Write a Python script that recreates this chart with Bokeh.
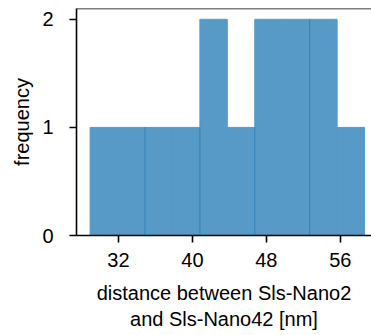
from bokeh.plotting import figure
from bokeh.models import Range1d, FixedTicker, Span
from bokeh.embed import file_html
from bokeh.resources import INLINE

# histogram data
bin_edges = [28.93, 31.90, 34.87, 37.84, 40.81, 43.78, 46.75, 49.72, 52.69, 55.66, 58.63]
counts = [1, 1, 1, 1, 2, 1, 2, 2, 2, 1]
x_ticks = [32, 40, 48, 56]
y_ticks = [0, 1, 2]

FONT = "Liberation Sans"
BAR = "#5799c7"

p = figure(width=371, height=335, output_backend="svg", toolbar_location=None,
           x_range=Range1d(27.46, 59.38), y_range=Range1d(0, 2.10),
           min_border_left=76, min_border_right=0, min_border_top=8, min_border_bottom=100)

p.quad(left=bin_edges[:-1], right=bin_edges[1:], bottom=0, top=counts,
       fill_color=BAR, line_color=BAR, line_width=1)

# faint inner edge lines seen in the picture
idx = [2, 4, 6, 8]
inner = [bin_edges[i] for i in idx]
inner_top = [min(counts[i - 1], counts[i]) for i in idx]
p.segment(x0=inner, y0=[0] * len(inner), x1=inner, y1=inner_top,
          line_color="#2f7fb8", line_width=1, line_alpha=0.9)

p.grid.visible = False
p.outline_line_color = None
p.background_fill_color = "white"
p.border_fill_color = "white"

for ax in (p.xaxis[0], p.yaxis[0]):
    ax.axis_line_width = 1.6
    ax.axis_line_color = "black"
    ax.major_tick_line_width = 1.6
    ax.major_tick_line_color = "black"
    ax.major_tick_out = 7
    ax.major_tick_in = 0
    ax.minor_tick_line_color = None
    ax.major_label_text_font = FONT
    ax.major_label_text_font_size = "20px"
    ax.major_label_text_color = "black"
    ax.axis_label_text_font = FONT
    ax.axis_label_text_font_size = "20px"
    ax.axis_label_text_font_style = "normal"
    ax.axis_label_text_color = "black"

p.xaxis.ticker = FixedTicker(ticks=x_ticks)
p.yaxis.ticker = FixedTicker(ticks=y_ticks)
p.xaxis.axis_label = "distance between Sls-Nano2\nand Sls-Nano42 [nm]"
p.yaxis.axis_label = "frequency"
p.xaxis.major_label_standoff = 10
p.xaxis.axis_label_standoff = 12
p.yaxis.major_label_standoff = 16
p.yaxis.axis_label_standoff = 6

top_line = Span(location=p.y_range.end, dimension="width",
                line_color="black", line_width=1.6)
p.add_layout(top_line)

open("out.html", "w").write(file_html(p, INLINE))
